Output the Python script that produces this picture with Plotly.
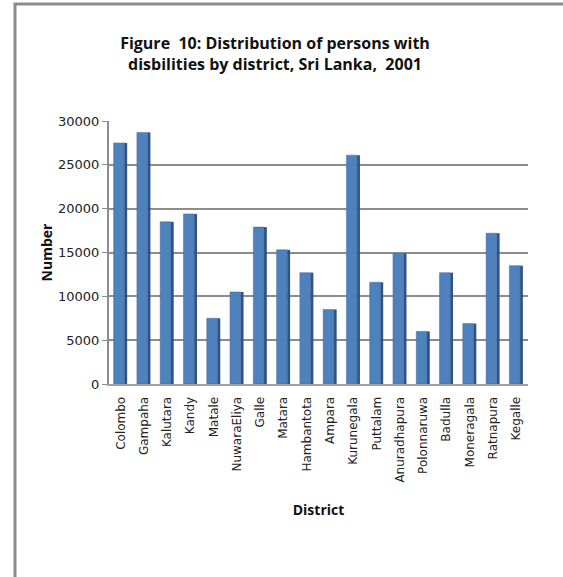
import plotly.graph_objects as go

districts = ["Colombo", "Gampaha", "Kalutara", "Kandy", "Matale", "NuwaraEliya",
             "Galle", "Matara", "Hambantota", "Ampara", "Kurunegala", "Puttalam",
             "Anuradhapura", "Polonnaruwa", "Badulla", "Moneragala", "Ratnapura", "Kegalle"]
persons = [27500, 28700, 18500, 19400, 7500, 10500,
           17900, 15300, 12700, 8500, 26100, 11600,
           14900, 6000, 12700, 6900, 17200, 13500]
y_ticks = [0, 5000, 10000, 15000, 20000, 25000, 30000]

W, H = 563, 577
ML, MR, MT, MB = 109, 35, 121, 193
PW, PH = W - ML - MR, H - MT - MB

fig = go.Figure()
# front face
fig.add_trace(go.Bar(x=districts, y=persons, width=0.46, offset=-0.3,
                     marker=dict(color="#4F81BD", line=dict(color="#3C6A9E", width=0.5)),
                     hoverinfo="x+y"))
# side face (3D look)
fig.add_trace(go.Bar(x=districts, y=persons, width=0.12, offset=0.16,
                     marker=dict(color="#2E5484", line=dict(width=0)),
                     hoverinfo="skip"))

font_tick = "DejaVu Sans"
fig.update_layout(
    width=W, height=H,
    margin=dict(l=ML, r=MR, t=MT, b=MB),
    paper_bgcolor="white", plot_bgcolor="white",
    barmode="overlay", showlegend=False,
    title=dict(text="<b>Figure  10: Distribution of persons with<br>disbilities by district, Sri Lanka,  2001</b>",
               x=(275 - ML) / PW, xref="paper", xanchor="center",
               y=1 - 49 / H, yref="container", yanchor="middle",
               font=dict(family="Open Sans", size=16, color="#111")),
    shapes=[dict(type="rect", xref="paper", yref="paper",
                 x0=(15 - ML) / PW, x1=(600 - ML) / PW,
                 y0=-(MB + 40) / PH,
                 y1=1 + (MT - 4) / PH,
                 line=dict(color="#8C8C8C", width=3), fillcolor="rgba(0,0,0,0)", layer="below")],
)
fig.update_xaxes(
    tickangle=-90, tickfont=dict(family=font_tick, size=12, color="#222"),
    showline=True, linecolor="#A0A0A0", linewidth=2,
    ticks="outside", ticklen=6, tickcolor="white",
    title=dict(text="<b>District</b>", font=dict(family="Open Sans", size=14, color="#111"), standoff=24),
    range=[-0.5, 17.5],
)
fig.update_yaxes(
    range=[0, 30000], tickvals=y_ticks, ticktext=[str(v) for v in y_ticks],
    tickfont=dict(family=font_tick, size=13, color="#222"),
    showgrid=True, gridcolor="#8C8C8C", gridwidth=2,
    showline=True, linecolor="#8C8C8C", linewidth=2,
    ticks="outside", ticklen=5, tickcolor="#8C8C8C",
    zeroline=False,
    title=dict(text="<b>Number</b>", font=dict(family="Open Sans", size=14, color="#111"), standoff=2),
)
fig.write_html("out.html", config={"displayModeBar": False},
               post_script="document.body.style.margin='0';document.body.style.overflow='hidden';")
